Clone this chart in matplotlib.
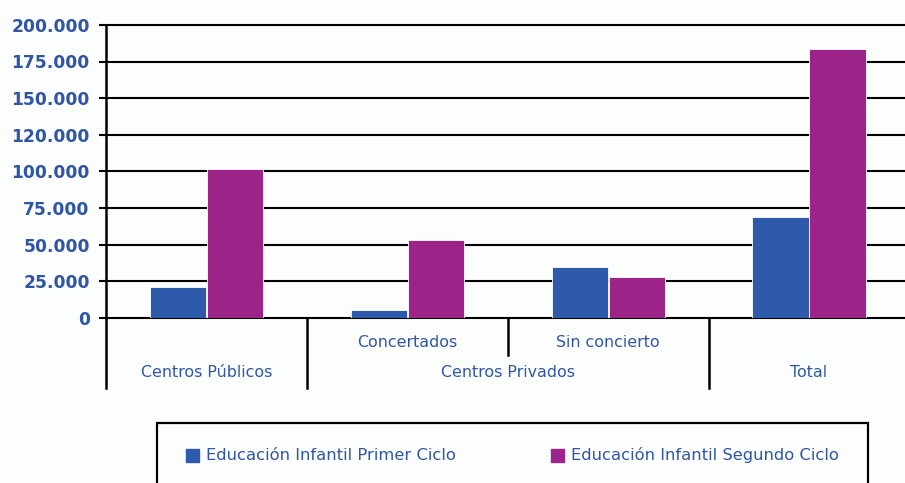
import matplotlib
matplotlib.use("Agg")
import matplotlib.pyplot as plt
from matplotlib.patches import Rectangle
from matplotlib.transforms import blended_transform_factory

matplotlib.rcParams["font.family"] = ["DejaVu Sans"]

# --- datos ---
sub_labels = ["", "Concertados", "Sin concierto", ""]
group_labels = ["Centros Públicos", "Centros Privados", "Total"]
group_pos = [0.5, 2.0, 3.5]
primer_ciclo = [21200, 5300, 34900, 68800]
segundo_ciclo = [101600, 53100, 27500, 183300]
ticks = [0, 25000, 50000, 75000, 100000, 125000, 150000, 175000, 200000]
tick_labels = ["0", "25.000", "50.000", "75.000", "100.000", "120.000",
               "150.000", "175.000", "200.000"]
series_names = ["Educación Infantil Primer Ciclo",
                "Educación Infantil Segundo Ciclo"]

BLUE = "#2E5AAC"
MAGENTA = "#9C2387"
TEXT = "#2F55A4"

W, H = 905, 483
fig = plt.figure(figsize=(W / 100, H / 100), dpi=100)
fig.patch.set_facecolor("#FCFEFE")

ax_l, ax_r = 106.3, 909.4
ax_b, ax_t = 317.7, 24.9
ax = fig.add_axes([ax_l / W, (H - ax_b) / H, (ax_r - ax_l) / W, (ax_b - ax_t) / H])
ax.set_facecolor("none")
ax.set_xlim(0, 4)
ax.set_ylim(0, 200000)

x = [i + 0.5 for i in range(4)]
ax.bar([v - 0.142 for v in x], primer_ciclo, width=0.28, color=BLUE,
       edgecolor="white", linewidth=0.6, zorder=3)
ax.bar([v + 0.142 for v in x], segundo_ciclo, width=0.28, color=MAGENTA,
       edgecolor="white", linewidth=0.6, zorder=3)

# líneas horizontales
ax.hlines(ticks, 0, 4, colors="black", linewidth=1.5, zorder=1, clip_on=False)

for s in ["top", "right", "bottom"]:
    ax.spines[s].set_visible(False)
ax.spines["left"].set_linewidth(1.8)
ax.spines["left"].set_zorder(4)

ax.set_yticks(ticks)
ax.set_yticklabels(tick_labels, fontsize=12.3, fontweight="bold", color=TEXT)
ax.tick_params(axis="y", direction="out", length=5, width=1.5, pad=7)
ax.set_xticks([])

# eje de categorías en dos niveles
tr = blended_transform_factory(ax.transData, ax.transAxes)
for xs in [0, 1, 3]:
    ax.plot([xs, xs], [0, -0.24], color="black", lw=1.8, transform=tr, clip_on=False)
ax.plot([2, 2], [0, -0.127], color="black", lw=1.8, transform=tr, clip_on=False)
for xi, lab in zip(x, sub_labels):
    if lab:
        ax.text(xi, -0.083, lab, transform=tr, ha="center", va="center",
                fontsize=11.4, color=TEXT)
for xi, lab in zip(group_pos, group_labels):
    ax.text(xi, -0.186, lab, transform=tr, ha="center", va="center",
            fontsize=11.4, color=TEXT)

# leyenda
fig.patches.append(Rectangle((157 / W, -0.05), (868 - 157) / W, (H - 423) / H + 0.05,
                             transform=fig.transFigure, fill=False,
                             edgecolor="black", linewidth=1.6))
for sx, col, name in [(186, BLUE, series_names[0]), (551, MAGENTA, series_names[1])]:
    fig.patches.append(Rectangle((sx / W, (H - 462) / H), 13 / W, 13 / H,
                                 transform=fig.transFigure, color=col))
    fig.text((sx + 20) / W, (H - 455) / H, name, ha="left", va="center",
             fontsize=11.8, color=TEXT)

fig.savefig("out.png", dpi=100, facecolor=fig.get_facecolor())
